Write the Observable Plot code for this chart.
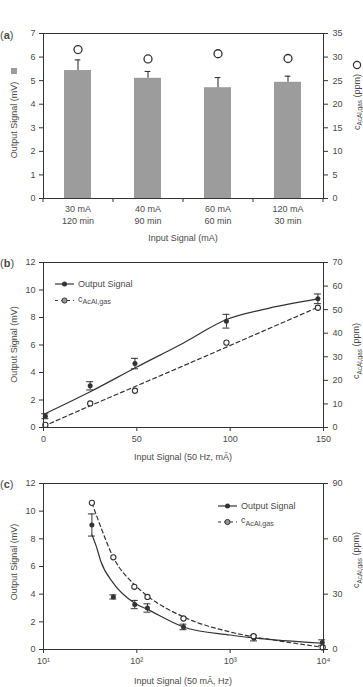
<!DOCTYPE html>
<html><head><meta charset="utf-8">
<script src="https://cdn.jsdelivr.net/npm/d3@7"></script>
<script src="https://cdn.jsdelivr.net/npm/@observablehq/plot@0.6"></script>
<style>
html,body{margin:0;padding:0;background:#fff;}
#fig{position:relative;width:363px;height:687px;overflow:hidden;}
#fig svg{position:absolute;left:0;}
</style></head><body><div id="fig"></div>
<script>
// ---------- Panel (a) ----------
const aCategories = ["30 mA\n120 min", "40 mA\n90 min", "60 mA\n60 min", "120 mA\n30 min"];
const aSignal = [5.43, 5.10, 4.70, 4.93];
const aSignalErr = [0.45, 0.29, 0.43, 0.26];
const aConc = [31.6, 29.6, 30.7, 29.7];
const aLeftTicks = [0, 1, 2, 3, 4, 5, 6, 7];
const aRightTicks = [0, 5, 10, 15, 20, 25, 30, 35];

// ---------- Panel (b) ----------
const bInput = [1, 25, 49, 98, 147];
const bSignal = [0.82, 3.03, 4.65, 7.73, 9.36];
const bSignalErr = [0.18, 0.3, 0.38, 0.5, 0.35];
const bConc = [1.1, 10.2, 15.6, 36, 50.8];
const bFitInput = [0, 25, 50, 75, 98, 120, 147];
const bSignalFit = [0.95, 2.6, 4.4, 6.15, 7.85, 8.65, 9.35];
const bConcFit = [0.5, 9.2, 17.7, 26.2, 34.1, 41.7, 51];
const bXTicks = [0, 50, 100, 150];
const bLeftTicks = [0, 2, 4, 6, 8, 10, 12];
const bRightTicks = [0, 10, 20, 30, 40, 50, 60, 70];

// ---------- Panel (c) ----------
const cInput = [33, 56, 95, 130, 316, 1800, 9700];
const cSignal = [9.0, 3.8, 3.25, 3.0, 1.63, 0.82, 0.5];
const cSignalErr = [0.8, 0.15, 0.3, 0.3, 0.2, 0.2, 0.2];
const cConcInput = [33, 56, 94, 130, 316, 1780, 9800];
const cConc = [79.5, 50, 34, 28.5, 16.8, 7.2, 1.1];
const cSignalFitInput = [33, 37, 41, 56, 95, 130, 316, 1000, 1800, 10000];
const cSignalFit = [8.3, 7.4, 6.4, 4.8, 3.35, 2.9, 1.63, 1.05, 0.84, 0.45];
const cConcFitInput = [33, 40, 56, 95, 130, 316, 1000, 1800, 3000, 10000];
const cConcFit = [79.5, 68, 50, 35, 29, 17.7, 9.5, 6.8, 5.0, 1.1];
const cXTicks = [10, 100, 1000, 10000];
const cXTickLabels = ["10¹", "10²", "10³", "10⁴"];
const cLeftTicks = [0, 2, 4, 6, 8, 10, 12];
const cRightTicks = [0, 30, 60, 90];

// ---------- Labels ----------
const yLeftTitle = "Output Signal (mV)";
const concMain = "c", concSub = "AcAl,gas", concUnit = " (ppm)";
const xTitleA = "Input Signal (mA)";
const xTitleB = "Input Signal (50 Hz, mÃ)";
const xTitleC = "Input Signal (50 mÃ, Hz)";
const legendSignal = "Output Signal";

// ---------- styling ----------
const FONT = '"Liberation Sans", Arial, Helvetica, sans-serif';
const INK = "#333";
const TXT = "#4a4a4a";
const W = 363, ML = 43, MR = 40;
const fig = document.getElementById("fig");
const baseStyle = {fontFamily: FONT, fontSize: "9px", color: TXT, background: "transparent", overflow: "visible"};

function addText(svg, x, y, parts, {rotate = 0, anchor = "middle", size = 9, subScale = 0.8} = {}) {
  const t = d3.select(svg).append("text")
    .attr("transform", `translate(${x},${y}) rotate(${rotate})`)
    .attr("text-anchor", anchor).attr("fill", TXT)
    .style("font-family", FONT).style("font-size", size + "px");
  let shift = 0;
  for (const p of parts) {
    const s = t.append("tspan").text(p.t);
    const want = p.sub ? size * 0.32 : 0;
    if (want !== shift) { s.attr("dy", want - shift); shift = want; }
    if (p.sub) s.style("font-size", (size * subScale) + "px");
    if (p.bold) s.attr("font-weight", "bold");
  }
  return t;
}
const concParts = [{t: concMain}, {t: concSub, sub: true}, {t: concUnit}];
function panelLabel(svg, letter, y) {
  addText(svg, 0, y, [{t: "("}, {t: letter, bold: true}, {t: ")"}], {anchor: "start", size: 11});
}
function legend(svg, x0, y1, y2) {
  const g = d3.select(svg).append("g");
  g.append("line").attr("x1", x0).attr("x2", x0 + 19).attr("y1", y1).attr("y2", y1).attr("stroke", INK).attr("stroke-width", 1.2);
  g.append("circle").attr("cx", x0 + 9.5).attr("cy", y1).attr("r", 2.5).attr("fill", INK);
  g.append("line").attr("x1", x0).attr("x2", x0 + 19).attr("y1", y2).attr("y2", y2).attr("stroke", INK).attr("stroke-width", 1.2).attr("stroke-dasharray", "3,3");
  g.append("circle").attr("cx", x0 + 9.5).attr("cy", y2).attr("r", 2.6).attr("fill", "#999").attr("stroke", INK).attr("stroke-width", 1);
  addText(svg, x0 + 23, y1 + 3.2, [{t: legendSignal}], {anchor: "start"});
  addText(svg, x0 + 23, y2 + 1, [{t: concMain}, {t: concSub, sub: true}], {anchor: "start"});
}
function place(svg, top) { svg.style.top = top + "px"; fig.appendChild(svg); }

// ===== Panel (a) =====
{
  const data = aCategories.map((c, i) => ({cat: c, signal: aSignal[i], err: aSignalErr[i], conc: aConc[i]}));
  const k = aLeftTicks.at(-1) / aRightTicks.at(-1);
  const step = (W - ML - MR) / aCategories.length;
  const pin = 0.61, bw = step * (1 - pin);
  const svg = Plot.plot({
    width: W, height: 245, marginTop: 33, marginBottom: 47, marginLeft: ML, marginRight: MR,
    style: baseStyle,
    x: {domain: aCategories, paddingInner: pin, paddingOuter: pin / 2},
    y: {domain: [0, aLeftTicks.at(-1)]},
    marks: [
      Plot.barY(data, {x: "cat", y: "signal", fill: "#9c9c9c"}),
      Plot.ruleX(data, {x: "cat", y1: "signal", y2: d => d.signal + d.err, stroke: INK, strokeWidth: 1.1}),
      Plot.tickY(data, {x: "cat", y: d => d.signal + d.err, stroke: INK, strokeWidth: 1.1, insetLeft: bw / 2 - 3, insetRight: bw / 2 - 3}),
      Plot.dot(data, {x: "cat", y: d => d.conc * k, r: 4, stroke: INK, strokeWidth: 1.3, fill: "none"}),
      Plot.frame({stroke: INK}),
      Plot.axisY(aLeftTicks, {anchor: "left", tickSize: 4, tickPadding: 4, label: null, stroke: INK}),
      Plot.axisY(aRightTicks.map(v => v * k), {anchor: "right", tickSize: 4, tickPadding: 5, label: null, stroke: INK, tickFormat: d => Math.round(d / k)}),
      Plot.axisX(aCategories, {tickSize: 0, tickPadding: 5, label: null, lineHeight: 1.33}),
      Plot.axisX(aCategories, {tickSize: 4, tickFormat: () => "", label: null, stroke: INK, dx: -step / 2}),
      Plot.axisX([aCategories.at(-1)], {tickSize: 4, tickFormat: () => "", label: null, stroke: INK, dx: step / 2})
    ]
  });
  addText(svg, 17, 120, [{t: yLeftTitle}], {rotate: -90});
  d3.select(svg).append("rect").attr("x", 11).attr("y", 68).attr("width", 6).attr("height", 6).attr("fill", "#9c9c9c");
  addText(svg, 359.5, 102, concParts, {rotate: -90, subScale: 0.72});
  d3.select(svg).append("circle").attr("cx", 357).attr("cy", 65).attr("r", 3.6).attr("fill", "none").attr("stroke", INK).attr("stroke-width", 1.2);
  addText(svg, (ML + W - MR) / 2, 241, [{t: xTitleA}]);
  panelLabel(svg, "a", 38.5);
  place(svg, 0);
}

// ===== Panel (b) =====
{
  const data = bInput.map((x, i) => ({x, s: bSignal[i], e: bSignalErr[i], c: bConc[i]}));
  const fit = bFitInput.map((x, i) => ({x, s: bSignalFit[i], c: bConcFit[i]}));
  const k = bLeftTicks.at(-1) / bRightTicks.at(-1);
  const svg = Plot.plot({
    width: W, height: 220, marginTop: 17, marginBottom: 38, marginLeft: ML, marginRight: MR,
    style: baseStyle,
    x: {domain: [bXTicks[0], bXTicks.at(-1)]},
    y: {domain: [0, bLeftTicks.at(-1)]},
    marks: [
      Plot.line(fit, {x: "x", y: "s", curve: "monotone-x", stroke: INK, strokeWidth: 1.2}),
      Plot.line(fit, {x: "x", y: d => d.c * k, curve: "monotone-x", stroke: INK, strokeWidth: 1.2, strokeDasharray: "4,3"}),
      Plot.ruleX(data, {x: "x", y1: d => d.s - d.e, y2: d => d.s + d.e, stroke: INK}),
      Plot.ruleY(data, {x1: "x", x2: "x", y: d => d.s + d.e, insetLeft: -3.5, insetRight: -3.5, stroke: INK}),
      Plot.ruleY(data, {x1: "x", x2: "x", y: d => d.s - d.e, insetLeft: -3.5, insetRight: -3.5, stroke: INK}),
      Plot.dot(data, {x: "x", y: "s", r: 2.5, fill: INK}),
      Plot.dot(data, {x: "x", y: d => d.c * k, r: 2.6, stroke: INK, strokeWidth: 1.1, fill: "white"}),
      Plot.frame({stroke: INK}),
      Plot.axisY(bLeftTicks, {anchor: "left", tickSize: 4, tickPadding: 4, label: null, stroke: INK}),
      Plot.axisY(bRightTicks.map(v => v * k), {anchor: "right", tickSize: 4, tickPadding: 5, label: null, stroke: INK, tickFormat: d => Math.round(d / k)}),
      Plot.axisX(bXTicks, {tickSize: 4, tickPadding: 4, label: null, stroke: INK})
    ]
  });
  addText(svg, 17, 99.5, [{t: yLeftTitle}], {rotate: -90});
  addText(svg, 359, 106, concParts, {rotate: -90, subScale: 0.72});
  addText(svg, (ML + W - MR) / 2, 215, [{t: xTitleB}]);
  legend(svg, 55, 39, 55.5);
  panelLabel(svg, "b", 21.5);
  place(svg, 245);
}

// ===== Panel (c) =====
{
  const data = cInput.map((x, i) => ({x, s: cSignal[i], e: cSignalErr[i]}));
  const conc = cConcInput.map((x, i) => ({x, c: cConc[i]}));
  const sFit = cSignalFitInput.map((x, i) => ({x, s: cSignalFit[i]}));
  const cFit = cConcFitInput.map((x, i) => ({x, c: cConcFit[i]}));
  const k = cLeftTicks.at(-1) / cRightTicks.at(-1);
  const svg = Plot.plot({
    width: W, height: 222, marginTop: 18, marginBottom: 38, marginLeft: ML, marginRight: MR,
    style: baseStyle,
    x: {type: "log", domain: [cXTicks[0], cXTicks.at(-1)]},
    y: {domain: [0, cLeftTicks.at(-1)]},
    marks: [
      Plot.line(sFit, {x: "x", y: "s", curve: "monotone-x", stroke: INK, strokeWidth: 1.2}),
      Plot.line(cFit, {x: "x", y: d => d.c * k, curve: "monotone-x", stroke: INK, strokeWidth: 1.2, strokeDasharray: "4,3"}),
      Plot.ruleX(data, {x: "x", y1: d => d.s - d.e, y2: d => d.s + d.e, stroke: INK}),
      Plot.ruleY(data, {x1: "x", x2: "x", y: d => d.s + d.e, insetLeft: -3.5, insetRight: -3.5, stroke: INK}),
      Plot.ruleY(data, {x1: "x", x2: "x", y: d => d.s - d.e, insetLeft: -3.5, insetRight: -3.5, stroke: INK}),
      Plot.dot(data, {x: "x", y: "s", r: 2.5, fill: INK}),
      Plot.dot(conc, {x: "x", y: d => d.c * k, r: 2.6, stroke: INK, strokeWidth: 1.1, fill: "white"}),
      Plot.frame({stroke: INK}),
      Plot.axisY(cLeftTicks, {anchor: "left", tickSize: 4, tickPadding: 4, label: null, stroke: INK}),
      Plot.axisY(cRightTicks.map(v => v * k), {anchor: "right", tickSize: 4, tickPadding: 5, label: null, stroke: INK, tickFormat: d => Math.round(d / k)}),
      Plot.axisX(cXTicks, {tickSize: 4, tickPadding: 4, label: null, stroke: INK, tickFormat: d => cXTickLabels[cXTicks.indexOf(d)]})
    ]
  });
  addText(svg, 17, 97, [{t: yLeftTitle}], {rotate: -90});
  addText(svg, 359, 95, concParts, {rotate: -90, subScale: 0.72});
  addText(svg, (ML + W - MR) / 2, 218.5, [{t: xTitleC}]);
  legend(svg, 218, 41, 57);
  panelLabel(svg, "c", 22.5);
  place(svg, 465);
}
</script></body></html>
